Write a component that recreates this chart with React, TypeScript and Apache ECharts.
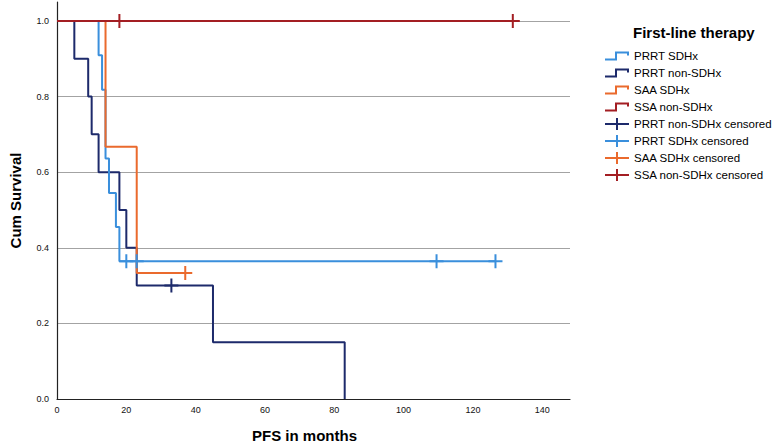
import React, { useEffect, useRef } from "react";
import * as echarts from "echarts";

const xTickLabels = [0, 20, 40, 60, 80, 100, 120, 140];
const yTickLabels = [0.0, 0.2, 0.4, 0.6, 0.8, 1.0];

const seriesNames = ["PRRT SDHx", "PRRT non-SDHx", "SAA SDHx", "SSA non-SDHx"];
const censoredNames = [
  "PRRT non-SDHx censored",
  "PRRT SDHx censored",
  "SAA SDHx censored",
  "SSA non-SDHx censored",
];

// PRRT SDHx
const prrtSdhxTimes = [0, 12, 13, 14, 15, 17, 18, 126.5];
const prrtSdhxSurv = [1, 0.909, 0.818, 0.636, 0.545, 0.455, 0.364, 0.364];
const prrtSdhxCensored = [20, 23, 109.5, 126.5];

// PRRT non-SDHx
const prrtNonTimes = [0, 5, 9, 10, 12, 18, 20, 23, 45, 83];
const prrtNonSurv = [1, 0.9, 0.8, 0.7, 0.6, 0.5, 0.4, 0.3, 0.15, 0];
const prrtNonCensored = [33];

// SAA SDHx
const saaSdhxTimes = [0, 14, 23, 37];
const saaSdhxSurv = [1, 0.667, 0.333, 0.333];
const saaSdhxCensored = [37];

// SSA non-SDHx
const ssaNonTimes = [0, 131.5];
const ssaNonSurv = [1, 1];
const ssaNonCensored = [18, 131.5];

const colors = {
  prrtSdhx: "#3a8fdc",
  prrtNon: "#1d2a6b",
  saaSdhx: "#ea6a2d",
  ssaNon: "#a31e23",
};

// step lookup of survival at a censoring time
const survAt = (times: number[], surv: number[], t: number) => {
  let v = surv[0];
  for (let i = 0; i < times.length; i++) if (times[i] <= t) v = surv[i];
  return v;
};

const zip = (a: number[], b: number[]) => a.map((t, i) => [t, b[i]]);

const STEP_ICON = "path://M0,7 L10,7 L10,0 L24,0 L24,4 L22,4 L22,2 L12,2 L12,9 L0,9 Z";
const CROSS_ICON =
  "path://M0,5 L11,5 L11,0 L13,0 L13,5 L24,5 L24,7 L13,7 L13,12 L11,12 L11,7 L0,7 Z";
const CROSS_SYMBOL =
  "path://M0,6 L6,6 L6,0 L8,0 L8,6 L14,6 L14,8 L8,8 L8,14 L6,14 L6,8 L0,8 Z";

export default function App() {
  const ref = useRef<HTMLDivElement>(null);

  useEffect(() => {
    if (!ref.current) return;
    const chart = echarts.init(ref.current, undefined, { renderer: "svg" });

    const lineDefs = [
      { name: seriesNames[1], data: zip(prrtNonTimes, prrtNonSurv), color: colors.prrtNon },
      { name: seriesNames[0], data: zip(prrtSdhxTimes, prrtSdhxSurv), color: colors.prrtSdhx },
      { name: seriesNames[2], data: zip(saaSdhxTimes, saaSdhxSurv), color: colors.saaSdhx },
      { name: seriesNames[3], data: zip(ssaNonTimes, ssaNonSurv), color: colors.ssaNon },
    ];
    const censDefs = [
      {
        name: censoredNames[0],
        data: prrtNonCensored.map((t) => [t, survAt(prrtNonTimes, prrtNonSurv, t)]),
        color: colors.prrtNon,
      },
      {
        name: censoredNames[1],
        data: prrtSdhxCensored.map((t) => [t, survAt(prrtSdhxTimes, prrtSdhxSurv, t)]),
        color: colors.prrtSdhx,
      },
      {
        name: censoredNames[2],
        data: saaSdhxCensored.map((t) => [t, survAt(saaSdhxTimes, saaSdhxSurv, t)]),
        color: colors.saaSdhx,
      },
      {
        name: censoredNames[3],
        data: ssaNonCensored.map((t) => [t, survAt(ssaNonTimes, ssaNonSurv, t)]),
        color: colors.ssaNon,
      },
    ];

    const colorByName: Record<string, string> = {};
    lineDefs.forEach((d) => (colorByName[d.name] = d.color));
    censDefs.forEach((d) => (colorByName[d.name] = d.color));

    const legendData = [
      ...seriesNames.map((n) => ({
        name: n,
        icon: STEP_ICON,
        itemStyle: { color: colorByName[n], borderWidth: 0 },
      })),
      ...censoredNames.map((n) => ({
        name: n,
        icon: CROSS_ICON,
        itemStyle: { color: colorByName[n], borderWidth: 0 },
      })),
    ];

    const font = "'Liberation Sans', Arial, sans-serif";

    chart.setOption({
      animation: false,
      backgroundColor: "#ffffff",
      textStyle: { fontFamily: font },
      title: {
        text: "First-line therapy",
        left: 628,
        top: 20,
        textStyle: { fontSize: 15, fontWeight: "bold", color: "#000", fontFamily: font },
      },
      legend: {
        orient: "vertical",
        left: 600,
        top: 45,
        itemWidth: 24,
        itemHeight: 12,
        itemGap: 5,
        symbolKeepAspect: true,
        selectedMode: false,
        textStyle: { fontSize: 11.5, color: "#000", fontFamily: font },
        data: legendData,
      },
      grid: { left: 51, right: 207, top: 2, bottom: 47, containLabel: false },
      xAxis: {
        type: "value",
        min: 0,
        max: 148,
        interval: 20,
        name: "PFS in months",
        nameLocation: "middle",
        nameGap: 29,
        nameTextStyle: {
          fontSize: 15,
          fontWeight: "bold",
          color: "#000",
          padding: [0, 18, 0, 0],
        },
        axisLine: { show: true, lineStyle: { color: "#222", width: 1.2 } },
        axisTick: { show: false },
        splitLine: { show: false },
        axisLabel: {
          fontSize: 9,
          color: "#111",
          margin: 6,
          showMaxLabel: false,
          formatter: (v: number) => (xTickLabels.includes(v) ? String(v) : ""),
        },
      },
      yAxis: {
        type: "value",
        min: 0,
        max: 1.05,
        interval: 0.2,
        name: "Cum Survival",
        nameLocation: "middle",
        nameGap: 34,
        nameTextStyle: { fontSize: 15, fontWeight: "bold", color: "#000" },
        axisLine: { show: true, lineStyle: { color: "#222", width: 1.2 } },
        axisTick: { show: false },
        splitLine: {
          show: true,
          showMinLine: false,
          showMaxLine: false,
          lineStyle: { color: "#a3a3a3", width: 1 },
        },
        axisLabel: {
          fontSize: 9,
          color: "#111",
          margin: 8,
          showMaxLabel: false,
          formatter: (v: number) => {
            const r = Math.round(v * 10) / 10;
            return yTickLabels.some((t) => Math.abs(t - v) < 1e-6) ? r.toFixed(1) : "";
          },
        },
      },
      series: [
        ...lineDefs.map((d) => ({
          name: d.name,
          type: "line",
          step: "end",
          data: d.data,
          symbol: "none",
          color: d.color,
          itemStyle: { color: d.color },
          lineStyle: { color: d.color, width: 2 },
          z: 2,
        })),
        ...censDefs.map((d) => ({
          name: d.name,
          type: "scatter",
          data: d.data,
          symbol: CROSS_SYMBOL,
          symbolSize: [14, 14],
          color: d.color,
          itemStyle: { color: d.color, opacity: 1 },
          z: 3,
        })),
      ],
    });

    return () => chart.dispose();
  }, []);

  return (
    <div
      ref={ref}
      style={{ position: "absolute", left: 0, top: 0, width: 777, height: 448 }}
    />
  );
}
